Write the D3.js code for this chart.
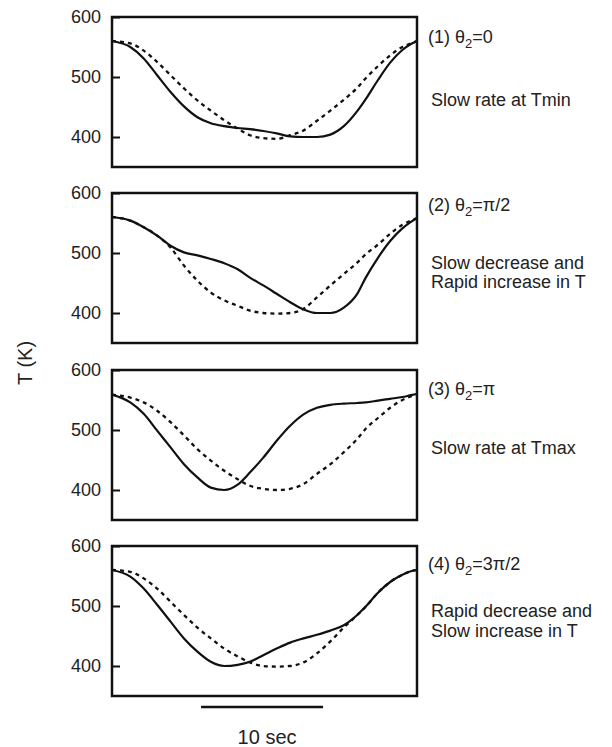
<!DOCTYPE html>
<html>
<head>
<meta charset="utf-8">
<script src="https://cdn.jsdelivr.net/npm/d3@7"></script>
<style>
  body { margin: 0; background: #fff; }
  svg text { font-family: "Liberation Sans", Arial, Helvetica, sans-serif; fill: #222; }
</style>
</head>
<body>
<svg id="chart" width="612" height="747"></svg>
<script>
// time axis (sec), one grid shared by all curves
const times = [0, 1.5, 2.6, 3.7, 4.8, 5.9, 7.0, 8.1, 9.2, 10.3, 11.3, 12.4, 13.5, 14.6,
               15.7, 16.8, 17.9, 19.0, 20.1, 20.8, 21.8, 22.8, 23.8, 24.5, 25];

// T (K) — solid = modulated profile, dashed = reference profile
const solid1  = [560, 550, 531, 503, 475, 451, 433, 423, 418, 415, 413, 410, 406, 401,
                 400, 400, 404, 418, 443, 463, 495, 524, 545, 555, 560];
const dashed1 = [560, 556, 544, 525, 503, 481, 461, 444, 428, 414, 403, 398, 397, 403,
                 411, 427, 444, 462, 482, 498, 518, 536, 550, 556, 560];

const solid2  = [560, 554, 543, 529, 512, 501, 496, 490, 483, 473, 459, 446, 432, 418,
                 406, 400, 400, 409, 432, 459, 492, 520, 541, 552, 558];
const dashed2 = [560, 554, 543, 529, 509, 479, 454, 434, 421, 412, 404, 400, 399, 400,
                 407, 426, 446, 465, 484, 498, 514, 532, 547, 554, 558];

const solid3  = [559, 546, 527, 499, 471, 443, 421, 404, 400, 409, 429, 454, 482, 507,
                 526, 537, 542, 544, 545, 546, 549, 552, 555, 558, 560];
const dashed3 = [559, 554, 546, 532, 513, 491, 468, 449, 432, 418, 407, 402, 400, 402,
                 410, 427, 443, 463, 485, 502, 520, 537, 550, 556, 560];

const solid4  = [560, 549, 529, 502, 474, 446, 424, 407, 400, 402, 407, 418, 429, 439,
                 446, 452, 459, 468, 485, 499, 522, 540, 552, 558, 560];
const dashed4 = [560, 557, 546, 529, 507, 485, 464, 446, 429, 416, 406, 400, 399, 400,
                 406, 421, 441, 464, 485, 499, 522, 540, 552, 558, 560];

const yTicks = [400, 500, 600];
const titles = [["(1) θ", "=0"], ["(2) θ", "=π/2"], ["(3) θ", "=π"], ["(4) θ", "=3π/2"]];
const notes = [
  ["Slow rate at Tmin"],
  ["Slow decrease and", "Rapid increase in T"],
  ["Slow rate at Tmax"],
  ["Rapid decrease and", "Slow increase in T"]
];
const scaleBar = [7.3, 17.3];   // 10 sec

const panels = [
  { solid: solid1, dashed: dashed1 },
  { solid: solid2, dashed: dashed2 },
  { solid: solid3, dashed: dashed3 },
  { solid: solid4, dashed: dashed4 }
];

const svg = d3.select("#chart");
const left = 112, width = 305, height = 150;
const tops = [17, 193, 370, 546];
const titleDy = [20, 12, 19, 18];
const noteDy = [[83], [70, 89], [78], [65, 85]];

const x = d3.scaleLinear().domain([0, 25]).range([0, width]);
const y = d3.scaleLinear().domain([350, 600]).range([height, 0]);

const line = (vals) => d3.line()
  .x((d, i) => x(times[i]))
  .y(d => y(d))
  .curve(d3.curveMonotoneX)(vals);

panels.forEach((p, k) => {
  const g = svg.append("g").attr("transform", `translate(${left},${tops[k]})`);

  // curves
  g.append("path").attr("d", line(p.dashed))
    .attr("fill", "none").attr("stroke", "#111").attr("stroke-width", 2.3)
    .attr("stroke-dasharray", "4,4");
  g.append("path").attr("d", line(p.solid))
    .attr("fill", "none").attr("stroke", "#111").attr("stroke-width", 2.2);

  // y axis with inward ticks
  const ax = g.append("g")
    .call(d3.axisLeft(y).tickValues(yTicks).tickSize(-8).tickPadding(11).tickFormat(d3.format("d")));
  ax.select(".domain").remove();
  ax.selectAll(".tick line").attr("stroke", "#111").attr("stroke-width", 2);
  ax.selectAll(".tick text").attr("font-size", 18).attr("fill", "#222")
    .attr("font-family", '"Liberation Sans", Arial, sans-serif');

  // frame
  g.append("rect").attr("width", width).attr("height", height)
    .attr("fill", "none").attr("stroke", "#111").attr("stroke-width", 2.5);

  // right-hand labels
  const t = g.append("text").attr("x", width + 11).attr("y", titleDy[k] + 6).attr("font-size", 18);
  t.append("tspan").text(titles[k][0]);
  t.append("tspan").attr("font-size", 13).attr("dy", 5).text("2");
  t.append("tspan").attr("dy", -5).text(titles[k][1]);

  notes[k].forEach((s, j) => {
    g.append("text").attr("x", width + 14).attr("y", noteDy[k][j] + 6)
      .attr("font-size", 18).text(s);
  });
});

// y label
svg.append("text")
  .attr("transform", "translate(32,363) rotate(-90)")
  .attr("text-anchor", "middle").attr("font-size", 20).text("T (K)");

// time scale bar
const gb = svg.append("g").attr("transform", `translate(${left},0)`);
gb.append("line")
  .attr("x1", x(scaleBar[0])).attr("x2", x(scaleBar[1]))
  .attr("y1", 707).attr("y2", 707)
  .attr("stroke", "#111").attr("stroke-width", 2.5);
gb.append("text")
  .attr("x", (x(scaleBar[0]) + x(scaleBar[1])) / 2 + 5).attr("y", 744)
  .attr("text-anchor", "middle").attr("font-size", 20).text("10 sec");
</script>
</body>
</html>
